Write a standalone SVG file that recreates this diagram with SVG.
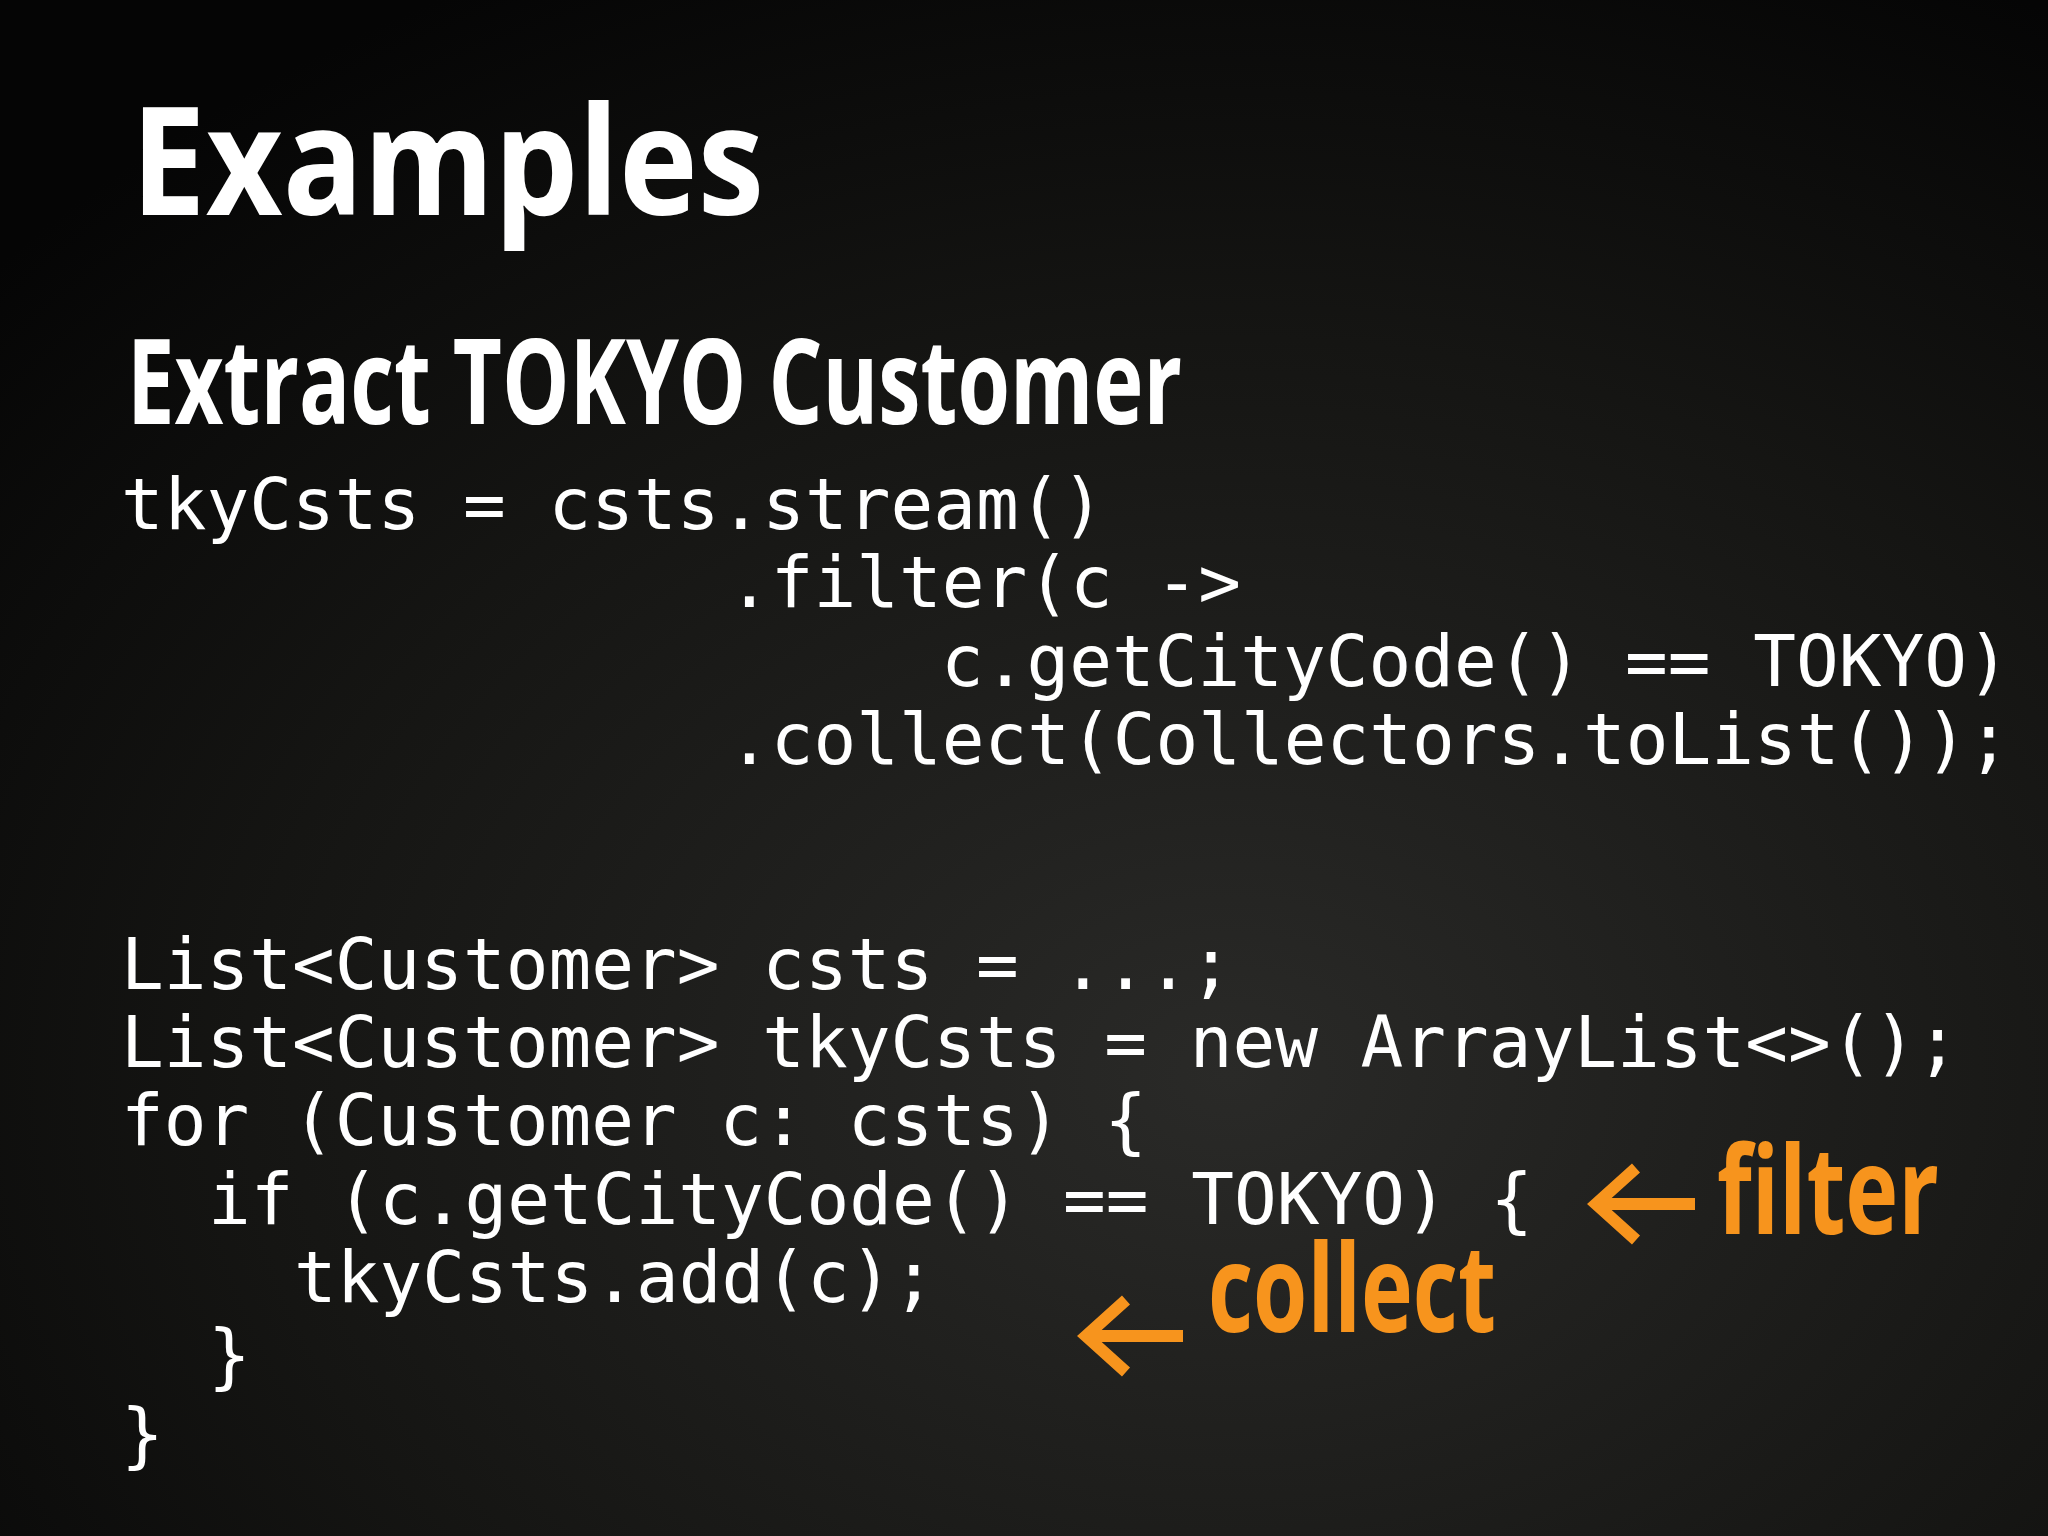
<svg xmlns="http://www.w3.org/2000/svg" width="2048" height="1536" viewBox="0 0 2048 1536">
<defs>
<radialGradient id="bg" cx="0.6" cy="0.7" r="0.8">
<stop offset="0" stop-color="#2a2a28"/>
<stop offset="0.6" stop-color="#151513"/>
<stop offset="1" stop-color="#050505"/>
</radialGradient>
<style>
.h{font-family:"Open Sans","Liberation Sans",sans-serif;font-weight:bold;fill:#fff}
.c{font-family:"DejaVu Sans Mono","Liberation Mono",monospace;font-size:71px;fill:#fff;white-space:pre}
.o{font-family:"Open Sans","Liberation Sans",sans-serif;font-weight:bold;fill:#f7941d}
.a{stroke:#f7941d;stroke-width:12;fill:none;stroke-linecap:butt}
</style>
</defs>
<rect width="2048" height="1536" fill="url(#bg)"/>
<g id="title"><text class="h" x="131" y="215" font-size="150" textLength="633" lengthAdjust="spacingAndGlyphs">Examples</text></g>
<g id="subtitle"><text class="h" x="127" y="424" font-size="118" textLength="1055" lengthAdjust="spacingAndGlyphs">Extract TOKYO Customer</text></g>
<g id="stream-code">
<text class="c" x="121" y="529">tkyCsts = csts.stream()</text>
<text class="c" x="728" y="607">.filter(c -&gt;</text>
<text class="c" x="941" y="686">c.getCityCode() == TOKYO)</text>
<text class="c" x="728" y="764">.collect(Collectors.toList());</text>
</g>
<g id="loop-code">
<text class="c" x="121" y="989">List&lt;Customer&gt; csts = ...;</text>
<text class="c" x="121" y="1067">List&lt;Customer&gt; tkyCsts = new ArrayList&lt;&gt;();</text>
<text class="c" x="121" y="1145">for (Customer c: csts) {</text>
<text class="c" x="208" y="1224">if (c.getCityCode() == TOKYO) {</text>
<text class="c" x="294" y="1302">tkyCsts.add(c);</text>
<text class="c" x="208" y="1380">}</text>
<text class="c" x="121" y="1459">}</text>
</g>
<g id="connectors">
<path class="a" d="M1596 1204 H1695 M1636 1168 L1596 1204 L1636 1240"/>
<path class="a" d="M1086 1336 H1183 M1126 1300 L1086 1336 L1126 1372"/>
</g>
<g id="filter-label"><text class="o" x="1717" y="1234" font-size="122" textLength="222" lengthAdjust="spacingAndGlyphs">filter</text></g>
<g id="collect-label"><text class="o" x="1208" y="1332" font-size="122" textLength="288" lengthAdjust="spacingAndGlyphs">collect</text></g>
</svg>
